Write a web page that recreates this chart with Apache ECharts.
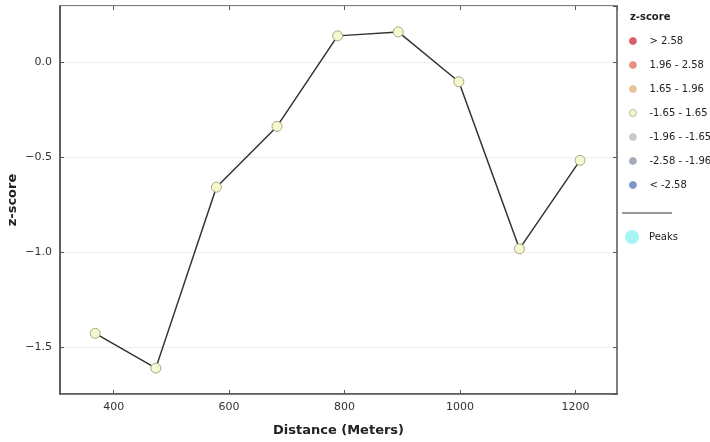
<!doctype html>
<html>
<head>
    <meta charset="utf-8">
    <title>z-score profile</title>
    <style>
        html, body { margin: 0; padding: 0; background: #fff; }
        #chart { width: 710px; height: 442px; }
    </style>
</head>
<body>
<div id="chart"></div>
<script src="https://cdn.jsdelivr.net/npm/echarts@6/dist/echarts.min.js"></script>
<script>
    // distances along the profile (m) and z-score at each point
    var distance = [368, 473, 578, 683, 788, 893, 998, 1103, 1208];
    var zscore = [-1.427, -1.61, -0.659, -0.34, 0.136, 0.157, -0.105, -0.983, -0.518];

    // legend classes
    var classNames = ['> 2.58', '1.96 - 2.58', '1.65 - 1.96', '-1.65 - 1.65', '-1.96 - -1.65', '-2.58 - -1.96', '< -2.58'];
    var classColors = ['#d6606d', '#e8917e', '#e6c497', '#f6f8cf', '#c9c9c9', '#a3aab8', '#7b93c6'];

    var pts = distance.map(function (d, i) { return [d, zscore[i]]; });

    function minus(v) { return String(v).replace('-', '\u2212'); }

    var series = [{
        name: 'line',
        type: 'line',
        data: pts,
        symbol: 'none',
        lineStyle: { color: '#333', width: 1.5 },
        z: 2
    }];
    classNames.forEach(function (n, i) {
        var isMain = n === '-1.65 - 1.65';
        series.push({
            name: n,
            type: 'scatter',
            data: isMain ? pts : [],
            symbolSize: 10,
            itemStyle: {
                color: classColors[i],
                borderColor: isMain ? '#a8a880' : classColors[i],
                borderWidth: isMain ? 1 : 0,
                opacity: 1
            },
            z: 3
        });
    });
    series.push({
        name: 'Peaks',
        type: 'scatter',
        data: [],
        itemStyle: { color: '#8ef3f3' }
    });

    var myChart = echarts.init(document.getElementById('chart'));
    var option = {
        animation: false,
        textStyle: { fontFamily: 'DejaVu Sans' },
        grid: {
            left: 60, right: 93, top: 6, bottom: 48,
            outerBoundsMode: 'none',
            containLabel: false,
            show: true, borderColor: '#555', borderWidth: 1.5
        },
        legend: [{
            data: classNames,
            orient: 'vertical',
            left: 629, top: 35,
            padding: 0,
            icon: 'circle',
            itemWidth: 7, itemHeight: 7,
            itemGap: 12,
            itemStyle: { borderWidth: 0.8 },
            textStyle: { fontSize: 10, color: '#222', lineHeight: 12, padding: [0, 0, 0, 8] },
            selectedMode: false
        }, {
            data: ['Peaks'],
            orient: 'vertical',
            left: 625, top: 230,
            padding: 0,
            icon: 'circle',
            itemWidth: 14, itemHeight: 14,
            textStyle: { fontSize: 10, color: '#222', padding: [0, 0, 0, 5] },
            selectedMode: false
        }],
        graphic: [{
            type: 'text', left: 630, top: 12,
            style: { text: 'z-score', font: 'bold 10px DejaVu Sans', fill: '#222' }
        }, {
            type: 'line',
            shape: { x1: 622, y1: 213, x2: 672, y2: 213 },
            style: { stroke: '#777', lineWidth: 1.5 }
        }],
        xAxis: [{
            type: 'value',
            min: 307, max: 1272,
            splitNumber: 5,
            name: 'Distance (Meters)',
            nameLocation: 'middle',
            nameGap: 30,
            nameMoveOverlap: false,
            nameTextStyle: { fontWeight: 'bold', fontSize: 13, color: '#222' },
            axisLine: { onZero: false, lineStyle: { color: '#555', width: 1.5 } },
            axisTick: { inside: true, length: 4, lineStyle: { color: '#555' } },
            axisLabel: {
                color: '#333', fontSize: 11, showMinLabel: false, showMaxLabel: false,
                formatter: function (v) { return String(v); }
            },
            splitLine: { show: false }
        }, {
            type: 'value',
            position: 'top',
            min: 307, max: 1272,
            splitNumber: 5,
            axisLine: { show: false, onZero: false },
            axisTick: { inside: true, length: 4, lineStyle: { color: '#555' } },
            axisLabel: { show: false },
            splitLine: { show: false }
        }],
        yAxis: [{
            type: 'value',
            min: -1.746, max: 0.293,
            splitNumber: 4,
            name: 'z-score',
            nameLocation: 'middle',
            nameGap: 41,
            nameMoveOverlap: false,
            nameTextStyle: { fontWeight: 'bold', fontSize: 13, color: '#222' },
            axisLine: { show: true, onZero: false, lineStyle: { color: '#555', width: 1.5 } },
            axisTick: { show: true, inside: true, length: 4, lineStyle: { color: '#555' } },
            axisLabel: {
                color: '#333', fontSize: 11, showMinLabel: false, showMaxLabel: false,
                formatter: function (v) { return minus(v.toFixed(1)); }
            },
            splitLine: { show: true, lineStyle: { color: '#eeeeee', width: 1 } }
        }, {
            type: 'value',
            position: 'right',
            min: -1.746, max: 0.293,
            splitNumber: 4,
            axisLine: { show: false, onZero: false },
            axisTick: { show: true, inside: true, length: 4, lineStyle: { color: '#555' } },
            axisLabel: { show: false },
            splitLine: { show: false }
        }],
        series: series
    };
    myChart.setOption(option);
</script>
</body>
</html>
